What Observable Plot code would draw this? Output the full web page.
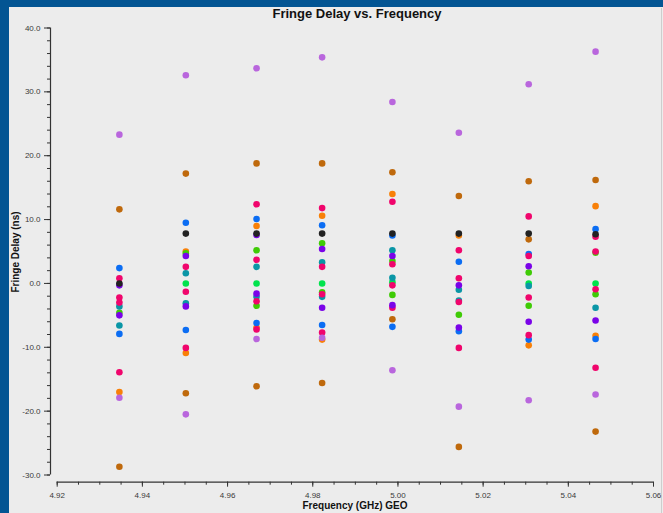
<!DOCTYPE html>
<html>
<head>
<meta charset="utf-8">
<script src="https://cdn.jsdelivr.net/npm/d3@7"></script>
<script src="https://cdn.jsdelivr.net/npm/@observablehq/plot@0.6"></script>
<style>
  html, body { margin: 0; padding: 0; }
  body { width: 663px; height: 513px; overflow: hidden; background: #035593; position: relative; font-family: "Liberation Sans", Arial, sans-serif; }
  #panel { position: absolute; left: 9px; top: 7px; width: 654px; height: 506px; background: #ececec; }
  #panel svg { position: absolute; left: 0; top: 0; }
  #title { position: absolute; left: 348px; top: -1px; transform: translateX(-50%); font-weight: bold; font-size: 13px; color: #111; white-space: nowrap; }
  #xtitle { position: absolute; left: 346px; top: 493px; transform: translateX(-50%); font-weight: bold; font-size: 10px; color: #111; white-space: nowrap; }
  #ytitle { position: absolute; left: 5.5px; top: 244.7px; transform: translate(-50%, -50%) rotate(-90deg); font-weight: bold; font-size: 10px; color: #111; white-space: nowrap; }
  #edge { position: absolute; left: 652px; top: 1px; width: 1px; height: 505px; background: #cdcdcd; }
</style>
</head>
<body>
<div id="panel">
  <div id="edge"></div>
  <div id="title">Fringe Delay vs. Frequency</div>
  <div id="xtitle">Frequency (GHz) GEO</div>
  <div id="ytitle">Fringe Delay (ns)</div>
</div>
<script>
// Channel frequencies (GHz)
const freqs = [4.9346, 4.9502, 4.9668, 4.9822, 4.9987, 5.0143, 5.0307, 5.0464];

// Fringe delay values (ns), one value per channel (null = not visible)
const orangeHigh   = [null, 5.0, 9.0, 10.6, 14.0, 7.5, null, 12.1];
const orangeLow    = [-17.0, -10.9, -6.9, -8.8, null, null, -9.7, -8.2];
const brownHigh    = [11.6, 17.2, 18.8, 18.8, 17.4, 13.7, 16.0, 16.2];
const brownLow     = [-28.7, -17.2, -16.1, -15.6, -5.6, -25.6, 6.9, -23.2];
const greenVals    = [null, 0.0, 0.0, 0.0, 0.2, null, 0.0, 0.0];
const limeHigh     = [-4.6, 4.7, 5.2, 6.3, 3.5, -4.9, 1.7, 4.8];
const limeLow      = [null, null, -3.5, -1.4, -1.8, null, -3.5, -1.7];
const tealHigh     = [-3.6, 1.6, 2.6, 3.3, 5.2, -1.0, -0.4, null];
const tealLow      = [-6.6, -3.1, -2.1, -2.1, 0.9, -2.7, null, -3.8];
const blueHigh     = [2.4, 9.5, 10.1, 9.1, 7.5, 3.4, 4.6, 8.5];
const blueLow      = [-7.9, -7.3, -6.2, -6.5, -6.8, -7.5, -8.8, -8.7];
const pinkA        = [0.8, 2.6, 12.4, 11.8, 12.8, 5.2, 10.5, 7.3];
const pinkB        = [-2.2, -1.3, 3.7, 2.6, 3.0, 0.8, 4.3, 5.0];
const pinkC        = [-3.0, -10.1, -2.8, -1.7, -0.3, -2.9, -2.2, -0.9];
const pinkD        = [-13.9, null, -7.2, -7.7, -3.8, -10.1, -8.1, -13.2];
const violetHigh   = [-0.3, 4.3, 7.6, 5.4, 4.3, -0.3, 2.7, null];
const violetLow    = [-5.0, -3.6, -1.6, -3.8, -3.4, -6.9, -6.0, -5.8];
const lavenderHigh = [23.3, 32.6, 33.7, 35.4, 28.4, 23.6, 31.2, 36.3];
const lavenderLow  = [-17.9, -20.5, -8.7, -8.5, -13.6, -19.3, -18.3, -17.4];
const blackVals    = [0.0, 7.8, 7.8, 7.8, 7.8, 7.8, 7.8, 7.7];

// Colour groups (names are not CSS colours, so they go through the color scale)
const groupNames  = ["grpOrange", "grpBrown", "grpGreen", "grpLime", "grpTeal", "grpBlue", "grpPink", "grpViolet", "grpLavender", "grpBlack"];
const groupColors = ["#f88008", "#bf690c", "#00e34c", "#3fcb06", "#0a96a6", "#0b6df3", "#f0056c", "#7a03e8", "#b966dd", "#222222"];

// Tick values
const yMajor = d3.range(-30, 41, 10);
const yMinor = d3.range(-30, 41, 2);
const xMajor = [4.92, 4.94, 4.96, 4.98, 5.00, 5.02, 5.04, 5.06];
const xMinor = d3.range(0, 29).map(i => +(4.92 + i * 0.005).toFixed(3));

const series = [
  ["grpOrange", orangeHigh], ["grpOrange", orangeLow],
  ["grpBrown", brownHigh], ["grpBrown", brownLow],
  ["grpGreen", greenVals],
  ["grpLime", limeHigh], ["grpLime", limeLow],
  ["grpTeal", tealHigh], ["grpTeal", tealLow],
  ["grpBlue", blueHigh], ["grpBlue", blueLow],
  ["grpPink", pinkA], ["grpPink", pinkB], ["grpPink", pinkC], ["grpPink", pinkD],
  ["grpViolet", violetHigh], ["grpViolet", violetLow],
  ["grpLavender", lavenderHigh], ["grpLavender", lavenderLow],
  ["grpBlack", blackVals]
];
const rows = [];
for (const [group, vals] of series) {
  vals.forEach((v, i) => { if (v != null) rows.push({freq: freqs[i], delay: v, group}); });
}

const chart = Plot.plot({
  width: 654,
  height: 506,
  marginLeft: 41,
  marginRight: 10,
  marginTop: 20.5,
  marginBottom: 31.3,
  insetLeft: 6.7,
  insetBottom: 7.2,
  x: {domain: [4.92, 5.06], label: null},
  y: {domain: [-30, 40], label: null},
  color: {type: "ordinal", domain: groupNames, range: groupColors},
  style: {background: "transparent", fontFamily: "'Liberation Sans', Arial, sans-serif", fontSize: "8px", color: "#3a3a3a"},
  marks: [
    Plot.axisY({ticks: yMinor, tickSize: 3, tickFormat: () => "", label: null, stroke: "#333"}),
    Plot.axisY({ticks: yMajor, tickSize: 6, tickPadding: 4, tickFormat: d => d.toFixed(1), label: null, stroke: "#333", fill: "#3a3a3a"}),
    Plot.axisX({ticks: xMinor, tickSize: 3, tickFormat: () => "", label: null, stroke: "#333"}),
    Plot.axisX({ticks: xMajor, tickSize: 5, tickPadding: 5, tickFormat: d => d.toFixed(2), label: null, stroke: "#333", fill: "#3a3a3a"}),
    Plot.ruleX([4.92], {y1: -30, y2: 40, dx: -6.7, stroke: "#333", strokeWidth: 1.2}),
    Plot.ruleY([-30], {x1: 4.92, x2: 5.06, dy: 7.2, stroke: "#333", strokeWidth: 1.2}),
    Plot.dot(rows, {x: "freq", y: "delay", fill: {value: "group", scale: "color"}, r: 3.3})
  ]
});
document.getElementById("panel").appendChild(chart);
</script>
</body>
</html>
